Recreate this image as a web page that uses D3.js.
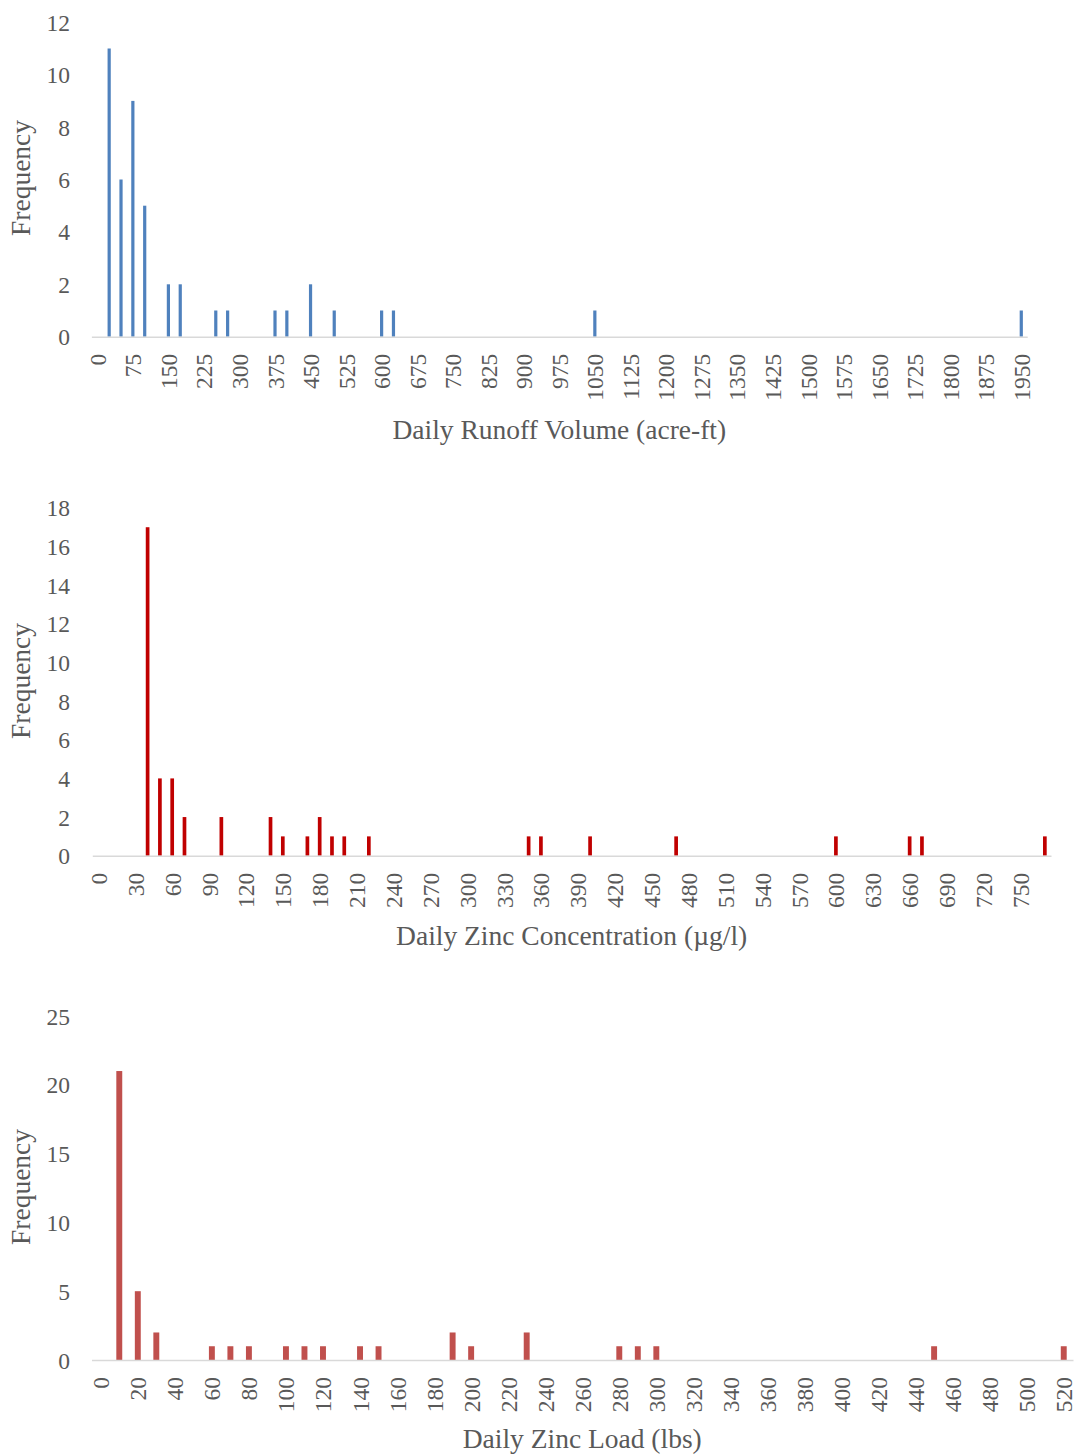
<!DOCTYPE html>
<html>
<head>
<meta charset="utf-8">
<script src="https://cdn.jsdelivr.net/npm/d3@7"></script>
<style>
  html, body { margin: 0; padding: 0; background: #ffffff; }
  svg { display: block; }
  text { font-family: "Liberation Serif", "Times New Roman", serif; fill: #595959; }
</style>
</head>
<body>
<svg id="chart" width="1076" height="1456"></svg>
<script>
// ---- Daily runoff volume histogram (bin upper edges, acre-ft) ----
const runoffBins = ["0","25","50","75","100","125","150","175","200","225","250","275","300","325","350","375","400","425","450","475","500","525","550","575","600","625","650","675","700","725","750","775","800","825","850","875","900","925","950","975","1000","1025","1050","1075","1100","1125","1150","1175","1200","1225","1250","1275","1300","1325","1350","1375","1400","1425","1450","1475","1500","1525","1550","1575","1600","1625","1650","1675","1700","1725","1750","1775","1800","1825","1850","1875","1900","1925","1950"];
const runoffCounts = [0,11,6,9,5,0,2,2,0,0,1,1,0,0,0,1,1,0,2,0,1,0,0,0,1,1,0,0,0,0,0,0,0,0,0,0,0,0,0,0,0,0,1,0,0,0,0,0,0,0,0,0,0,0,0,0,0,0,0,0,0,0,0,0,0,0,0,0,0,0,0,0,0,0,0,0,0,0,1];
const runoffYTicks = [0,2,4,6,8,10,12];

// ---- Daily zinc concentration histogram (µg/l) ----
const concBins = ["0","10","20","30","40","50","60","70","80","90","100","110","120","130","140","150","160","170","180","190","200","210","220","230","240","250","260","270","280","290","300","310","320","330","340","350","360","370","380","390","400","410","420","430","440","450","460","470","480","490","500","510","520","530","540","550","560","570","580","590","600","610","620","630","640","650","660","670","680","690","700","710","720","730","740","750","760","770"];
const concCounts = [0,0,0,0,17,4,4,2,0,0,2,0,0,0,2,1,0,1,2,1,1,0,1,0,0,0,0,0,0,0,0,0,0,0,0,1,1,0,0,0,1,0,0,0,0,0,0,1,0,0,0,0,0,0,0,0,0,0,0,0,1,0,0,0,0,0,1,1,0,0,0,0,0,0,0,0,0,1];
const concYTicks = [0,2,4,6,8,10,12,14,16,18];

// ---- Daily zinc load histogram (lbs) ----
const loadBins = ["0","10","20","30","40","50","60","70","80","90","100","110","120","130","140","150","160","170","180","190","200","210","220","230","240","250","260","270","280","290","300","310","320","330","340","350","360","370","380","390","400","410","420","430","440","450","460","470","480","490","500","510","520"];
const loadCounts = [0,21,5,2,0,0,1,1,1,0,1,1,1,0,1,1,0,0,0,2,1,0,0,2,0,0,0,0,1,1,1,0,0,0,0,0,0,0,0,0,0,0,0,0,0,1,0,0,0,0,0,0,1];
const loadYTicks = [0,5,10,15,20,25];

const svg = d3.select("#chart");

const panels = [
  { bins: runoffBins, counts: runoffCounts, yTicks: runoffYTicks, labelEvery: 3,
    title: "Daily Runoff Volume (acre-ft)", color: "#4F81BD", barFrac: 0.27,
    x0: 91.4, x1: 1027.2, yBase: 336.7, yTop: 22.3, titleY: 439, yTitleCy: 178 },
  { bins: concBins, counts: concCounts, yTicks: concYTicks, labelEvery: 3,
    title: "Daily Zinc Concentration (µg/l)", color: "#C00000", barFrac: 0.3,
    x0: 92.3, x1: 1051, yBase: 855.7, yTop: 507.9, titleY: 945, yTitleCy: 681 },
  { bins: loadBins, counts: loadCounts, yTicks: loadYTicks, labelEvery: 2,
    title: "Daily Zinc Load (lbs)", color: "#C0504D", barFrac: 0.32,
    x0: 91.5, x1: 1073, yBase: 1360, yTop: 1016, titleY: 1448, yTitleCy: 1187 }
];

panels.forEach(p => {
  const g = svg.append("g");
  const data = p.bins.map((b, i) => ({ bin: b, count: p.counts[i] }));

  const x = d3.scaleBand().domain(p.bins).range([p.x0, p.x1]).paddingInner(0).paddingOuter(0);
  const yMax = p.yTicks[p.yTicks.length - 1];
  const y = d3.scaleLinear().domain([0, yMax]).range([p.yBase, p.yTop]);

  const bw = x.bandwidth() * p.barFrac;

  // bars
  g.append("g").selectAll("rect")
    .data(data.filter(d => d.count > 0))
    .join("rect")
      .attr("x", d => x(d.bin) + x.bandwidth() / 2 - bw / 2)
      .attr("y", d => y(d.count))
      .attr("width", bw)
      .attr("height", d => y(0) - y(d.count))
      .attr("fill", p.color);

  // category axis
  const xAxis = d3.axisBottom(x)
    .tickValues(p.bins.filter((b, i) => i % p.labelEvery === 0))
    .tickSize(0).tickPadding(0);
  const gx = g.append("g").attr("transform", `translate(0,${p.yBase})`).call(xAxis);
  gx.select(".domain").attr("stroke", "#D9D9D9").attr("stroke-width", 1.6);
  gx.selectAll(".tick text")
    .attr("font-size", 23.5)
    .attr("font-family", "Liberation Serif")
    .attr("fill", "#595959")
    .attr("text-anchor", "end")
    .attr("dy", null)
    .attr("dominant-baseline", "central")
    .attr("transform", "translate(0.5,17) rotate(-90)")
    .attr("x", 0).attr("y", 0);

  // value axis labels (no line)
  const yAxis = d3.axisLeft(y).tickValues(p.yTicks).tickSize(0).tickPadding(0);
  const gy = g.append("g").attr("transform", "translate(70,0)").call(yAxis);
  gy.select(".domain").remove();
  gy.selectAll(".tick text")
    .attr("font-size", 23.5)
    .attr("font-family", "Liberation Serif")
    .attr("fill", "#595959")
    .attr("dy", null)
    .attr("dominant-baseline", "central")
    .attr("x", 0);

  // axis titles
  g.append("text")
    .attr("x", (p.x0 + p.x1) / 2)
    .attr("y", p.titleY)
    .attr("text-anchor", "middle")
    .attr("font-size", 27.5)
    .text(p.title);

  g.append("text")
    .attr("transform", `translate(30,${p.yTitleCy}) rotate(-90)`)
    .attr("text-anchor", "middle")
    .attr("font-size", 27.5)
    .text("Frequency");
});
</script>
</body>
</html>
